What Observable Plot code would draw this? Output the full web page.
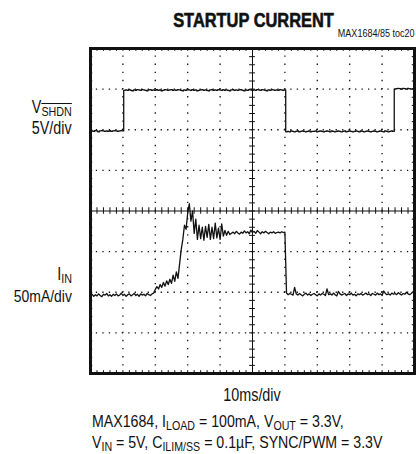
<!DOCTYPE html>
<html><head><meta charset="utf-8">
<script src="https://cdn.jsdelivr.net/npm/d3@7"></script>
<script src="https://cdn.jsdelivr.net/npm/@observablehq/plot@0.6"></script>
<style>
body{margin:0;background:#fff;}
#c{position:relative;width:416px;height:454px;font-family:"Liberation Sans",Arial,sans-serif;color:#111;}
#c svg{position:absolute;left:0;top:0;}
.t{position:absolute;white-space:nowrap;line-height:1;}
.s{display:inline-block;font-size:0.75em;line-height:0.8;position:relative;top:0.26em;}
.ov{text-decoration:overline;}
</style></head><body><div id="c"></div>
<script>
// oscilloscope capture: 10 ms/div horizontally, 8 vertical divisions; values in divisions
const sampleMs = 0.5;
const xDivisions = [0,10,20,30,40,50,60,70,80,90,100];
const yDivisions = [-4,-3,-2,-1,0,1,2,3,4];
const vshdn = [
1.96,1.97,1.96,1.98,1.97,1.95,1.97,1.98,1.97,1.96,1.97,1.96,1.98,1.96,1.97,1.98,1.97,1.96,1.97,1.98,1.97,
2.97,2.98,2.97,2.99,2.97,2.96,2.98,2.97,2.99,2.98,
2.97,2.99,2.98,2.97,2.96,2.98,2.99,2.97,2.98,2.97,
2.99,2.97,2.98,2.96,2.97,2.99,2.98,2.97,2.98,2.99,
2.97,2.98,2.97,2.99,2.98,2.97,2.96,2.98,2.97,2.99,
2.98,2.97,2.99,2.97,2.98,2.96,2.97,2.98,2.99,2.97,
2.98,2.97,2.96,2.98,2.99,2.97,2.98,2.97,2.99,2.98,
2.97,2.99,2.97,2.98,2.97,2.96,2.98,2.99,2.97,2.98,
2.97,2.98,2.99,2.97,2.96,2.98,2.97,2.99,2.98,2.97,
2.98,2.97,2.99,2.98,2.97,2.99,2.98,2.97,2.96,2.98,
2.97,2.99,2.98,2.97,2.98,2.97,2.99,2.98,2.97,2.98,
1.95,1.96,1.95,1.97,1.96,1.95,1.96,1.97,1.95,1.96,
1.97,1.96,1.95,1.96,1.97,1.95,1.96,1.96,1.97,1.95,
1.96,1.97,1.96,1.95,1.96,1.97,1.96,1.95,1.97,1.96,
1.95,1.96,1.97,1.96,1.95,1.96,1.97,1.95,1.96,1.97,
1.96,1.95,1.96,1.97,1.96,1.95,1.97,1.96,1.95,1.96,
1.97,1.96,1.95,1.96,1.97,1.96,1.95,1.96,1.97,1.96,
1.95,1.97,1.96,1.95,1.96,1.97,1.96,
3.00,3.01,3.02,3.01,3.00,3.02,3.01,3.00,3.02,3.01,3.00,3.01,3.02
];
const iin = [
-2.08,-2.05,-2.10,-2.06,-2.09,-2.04,-2.08,-2.11,-2.05,-2.07,
-2.03,-2.09,-2.06,-2.10,-2.05,-2.08,-2.04,-2.09,-2.07,-2.02,
-2.08,-2.05,-2.10,-2.06,-2.04,-2.09,-2.06,-2.03,-2.08,-2.05,
-2.10,-2.04,-2.07,-2.05,-2.09,-2.03,-2.06,-2.08,-2.04,-2.02,
-1.93,-1.86,-1.92,-1.81,-1.88,-1.76,-1.85,-1.72,-1.81,-1.68,-1.78,-1.58,-1.73,-1.50,-1.66,
-1.30,-0.95,-0.70,-0.35,-0.45,-0.05,0.18,-0.25,0.00,-0.55,
-0.20,-0.70,-0.35,-0.68,-0.40,-0.72,-0.38,-0.65,-0.33,-0.70,
-0.40,-0.68,-0.30,-0.66,-0.42,-0.70,-0.32,-0.62,-0.48,-0.60,-0.50,-0.58,
-0.55,-0.52,-0.56,-0.50,-0.54,-0.57,-0.52,-0.55,-0.49,-0.54,
-0.51,-0.56,-0.47,-0.53,-0.50,-0.55,-0.48,-0.52,-0.56,-0.51,
-0.54,-0.50,-0.53,-0.56,-0.52,-0.54,-0.51,-0.55,-0.53,-0.52,
-0.54,-0.51,-0.53,-0.52,
-2.02,-2.06,-2.03,-2.05,-2.07,-1.88,-2.04,-2.07,-2.03,-2.06,
-2.09,-2.05,-2.02,-2.07,-2.04,-2.08,-2.05,-2.03,-2.06,-2.09,
-2.04,-2.07,-2.03,-2.05,-2.08,-1.92,-2.06,-2.04,-2.07,-2.02,
-2.06,-2.09,-1.98,-2.04,-2.07,-2.05,-2.03,-2.08,-2.04,-2.06,
-2.02,-2.07,-2.05,-2.09,-2.04,-2.06,-2.03,-2.07,-2.05,-2.02,
-2.06,-2.04,-2.08,-2.03,-2.05,-2.07,-2.02,-2.06,-2.04,-2.08,
-1.97,-2.03,-2.06,-2.04,-2.07,-2.02,-2.05,-2.03,-2.06,-2.01,
-2.04,-2.07,-2.03,-2.05,-2.00,-2.04,-2.06,-2.03,-1.99,-2.02
];
const minorX = d3.range(0, 100.001, 2);
const minorY = d3.range(-4, 4.001, 0.2);
const time = vshdn.map((_, i) => i * sampleMs);
const traceV = time.map((t, i) => ({t, v: vshdn[i]}));
const traceI = time.map((t, i) => ({t, v: iin[i]}));

const ink = "#111";
const plot = Plot.plot({
  width: 416, height: 454,
  marginLeft: 90, marginRight: 2, marginTop: 48, marginBottom: 81,
  x: {domain: [0, 100], axis: null},
  y: {domain: [-4, 4], axis: null},
  marks: [
    Plot.ruleX(xDivisions.filter(d => d > 0 && d < 100 && d !== 50), {stroke: ink, strokeWidth: 1.3, strokeDasharray: "1.3,6.825", strokeDashoffset: 0.65}),
    Plot.ruleY(yDivisions.filter(d => d > -4 && d < 4 && d !== 0), {stroke: ink, strokeWidth: 1.3, strokeDasharray: "1.3,5.18", strokeDashoffset: 0.65}),
    Plot.ruleX([50], {stroke: ink, strokeWidth: 1}),
    Plot.ruleY([0], {stroke: ink, strokeWidth: 1}),
    Plot.ruleX(minorX, {y1: -0.08, y2: 0.08, stroke: ink, strokeWidth: 1}),
    Plot.ruleY(minorY, {x1: 49.1, x2: 50.9, stroke: ink, strokeWidth: 1}),
    Plot.ruleX(minorX, {y1: 3.93, y2: 4, stroke: ink, strokeWidth: 1}),
    Plot.ruleX(minorX, {y1: -4, y2: -3.93, stroke: ink, strokeWidth: 1}),
    Plot.ruleY(minorY, {x1: 0, x2: 0.7, stroke: ink, strokeWidth: 1}),
    Plot.ruleY(minorY, {x1: 99.3, x2: 100, stroke: ink, strokeWidth: 1}),
    Plot.line(traceV, {x: "t", y: "v", curve: "step", stroke: ink, strokeWidth: 1.3}),
    Plot.line(traceI, {x: "t", y: "v", stroke: ink, strokeWidth: 1.3}),
    Plot.frame({stroke: ink, strokeWidth: 3})
  ]
});
const c = document.getElementById("c");
c.appendChild(plot);
const texts = [
  {html: "STARTUP CURRENT", o: "center", style: "left:90px;width:327px;text-align:center;top:10px;font-size:20px;font-weight:bold;-webkit-text-stroke:0.6px #111;"},
  {html: "MAX1684/85 toc20", o: "right", style: "right:1px;top:28px;font-size:11px;"},
  {html: "V<span class='s ov'>SHDN</span>", o: "right", style: "right:344px;top:99px;font-size:17.5px;"},
  {html: "5V/div", o: "right", style: "right:344px;top:120px;font-size:17.5px;"},
  {html: "I<span class='s'>IN</span>", o: "right", style: "right:344px;top:266px;font-size:17.5px;"},
  {html: "50mA/div", o: "right", style: "right:344px;top:288px;font-size:17px;"},
  {html: "10ms/div", o: "center", style: "left:90px;width:324px;text-align:center;top:387px;font-size:17.5px;"},
  {html: "MAX1684, I<span class='s'>LOAD</span> = 100mA, V<span class='s'>OUT</span> = 3.3V,", o: "left", style: "left:92px;top:413px;font-size:17.3px;"},
  {html: "V<span class='s'>IN</span> = 5V, C<span class='s'>ILIM/SS</span> = 0.1\u00b5F, SYNC/PWM = 3.3V", o: "left", style: "left:92px;top:434px;font-size:17.3px;"}
];
for (const d of texts) {
  const el = document.createElement("div");
  el.className = "t";
  el.setAttribute("style", d.style + "transform:scaleX(0.82);transform-origin:" + d.o + " center;");
  el.innerHTML = d.html;
  c.appendChild(el);
}
</script></body></html>
